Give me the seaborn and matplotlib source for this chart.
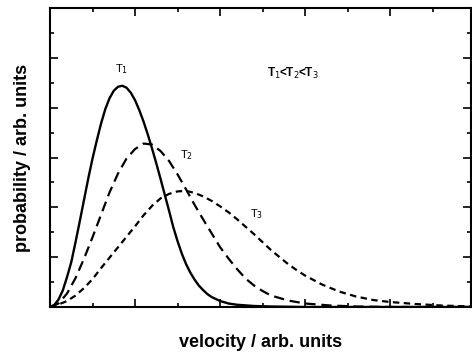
import numpy as np
import pandas as pd
import matplotlib
matplotlib.use('Agg')
import matplotlib.pyplot as plt
from matplotlib.ticker import MultipleLocator, NullFormatter
import seaborn as sns

# values (velocity, probability) in arb. units
t1_v = [0, 0.05, 0.1, 0.15, 0.2, 0.25, 0.3, 0.35, 0.4, 0.45, 0.5, 0.55, 0.6, 0.65, 0.7, 0.75,
        0.8, 0.85, 0.9, 0.95, 1.0, 1.05, 1.1, 1.15, 1.2, 1.25, 1.3, 1.35, 1.4, 1.45, 1.5, 1.55,
        1.6, 1.65, 1.7, 1.75, 1.8, 1.85, 1.9, 2.0, 2.1, 2.2, 2.4, 2.6, 3.0, 4.95]
t1_p = [0, 0.04, 0.15, 0.33, 0.6, 0.9, 1.3, 1.72, 2.15, 2.58, 2.98, 3.34, 3.68, 3.97, 4.19, 4.34,
        4.42, 4.44, 4.4, 4.3, 4.15, 3.95, 3.72, 3.46, 3.18, 2.88, 2.57, 2.25, 1.93, 1.6, 1.32, 1.07,
        0.86, 0.69, 0.55, 0.43, 0.34, 0.26, 0.2, 0.12, 0.07, 0.045, 0.02, 0.01, 0.0, 0.0]

t2_v = [0, 0.1, 0.2, 0.3, 0.4, 0.5, 0.6, 0.7, 0.8, 0.9, 1.0, 1.1, 1.2, 1.3, 1.4, 1.5, 1.6,
        1.7, 1.8, 1.9, 2.0, 2.1, 2.2, 2.3, 2.4, 2.5, 2.6, 2.8, 3.0, 3.3, 3.6, 4.0, 4.95]
t2_p = [0, 0.07, 0.27, 0.58, 0.97, 1.4, 1.85, 2.3, 2.68, 2.98, 3.17, 3.28, 3.26, 3.13, 2.93,
        2.66, 2.36, 2.05, 1.76, 1.48, 1.2, 0.97, 0.76, 0.57, 0.43, 0.32, 0.23, 0.13, 0.07,
        0.03, 0.01, 0.0, 0.0]

t3_v = [0, 0.1, 0.2, 0.3, 0.4, 0.5, 0.6, 0.7, 0.8, 0.9, 1.0, 1.1, 1.2, 1.3, 1.4, 1.5, 1.6,
        1.7, 1.8, 1.9, 2.0, 2.1, 2.2, 2.3, 2.4, 2.5, 2.6, 2.7, 2.8, 2.9, 3.0, 3.2, 3.4, 3.6,
        3.8, 4.0, 4.3, 4.6, 4.95]
t3_p = [0, 0.05, 0.12, 0.23, 0.38, 0.56, 0.78, 0.99, 1.2, 1.41, 1.62, 1.84, 2.03, 2.18, 2.27,
        2.32, 2.33, 2.29, 2.22, 2.13, 2.02, 1.9, 1.76, 1.61, 1.46, 1.3, 1.14, 1.0, 0.86, 0.74,
        0.63, 0.45, 0.31, 0.21, 0.14, 0.1, 0.06, 0.03, 0.01]

sns.set_style("ticks")
plt.rcParams['font.family'] = ['Liberation Sans', 'DejaVu Sans']
plt.rcParams['text.color'] = 'black'
plt.rcParams['axes.labelcolor'] = 'black'

fig = plt.figure(figsize=(4.72, 3.53), dpi=100)
ax = fig.add_axes([50 / 472, 46 / 353, 421 / 472, 299 / 353])

sns.lineplot(x=t1_v, y=t1_p, ax=ax, color='black', lw=1.7, sort=False)
sns.lineplot(x=t2_v, y=t2_p, ax=ax, color='black', lw=1.6, sort=False, dashes=(4.6, 2.6))
sns.lineplot(x=t3_v, y=t3_p, ax=ax, color='black', lw=1.6, sort=False, dashes=(2.9, 2.0))

ax.set_xlim(0, 4.95)
ax.set_ylim(0, 6)
ax.xaxis.set_major_locator(MultipleLocator(1))
ax.xaxis.set_minor_locator(MultipleLocator(0.5))
ax.yaxis.set_major_locator(MultipleLocator(1))
ax.yaxis.set_minor_locator(MultipleLocator(0.5))
ax.xaxis.set_major_formatter(NullFormatter())
ax.yaxis.set_major_formatter(NullFormatter())
ax.tick_params(which='both', direction='in', top=True, right=True, color='black', width=1.2)
ax.tick_params(which='major', length=6)
ax.tick_params(which='minor', length=3)
for s in ax.spines.values():
    s.set_linewidth(1.5)
    s.set_color('black')

ax.text(0.84, 4.78, r'T$_1$', ha='center', va='center', fontsize=8)
ax.text(1.61, 3.04, r'T$_2$', ha='center', va='center', fontsize=8)
ax.text(2.43, 1.87, r'T$_3$', ha='center', va='center', fontsize=8)
ax.text(2.86, 4.68, r'T$_1$<T$_2$<T$_3$', ha='center', va='center', fontsize=8.5,
        fontweight='bold')

ax.set_xlabel('velocity / arb. units', fontsize=13, fontweight='bold', labelpad=16)
ax.set_ylabel('probability / arb. units', fontsize=13, fontweight='bold', labelpad=10)

fig.savefig('out.png', dpi=100)
